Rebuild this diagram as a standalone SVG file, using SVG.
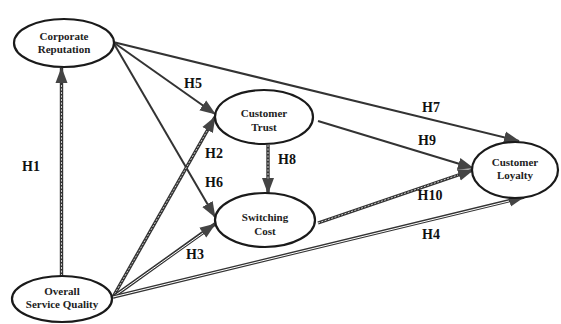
<svg xmlns="http://www.w3.org/2000/svg" width="561" height="324" viewBox="0 0 561 324">
<style>
.node ellipse{fill:#fff;stroke:#1a1a1a;stroke-width:2.2}
.node text{font-family:"Liberation Serif","Times New Roman",serif;font-weight:bold;font-size:11px;fill:#222;text-anchor:middle}
.lbl{font-family:"Liberation Serif","Times New Roman",serif;font-weight:bold;font-size:14px;fill:#111;text-anchor:middle}
.solid{stroke:#333;stroke-width:2;fill:none}
.hatch{stroke:#333;stroke-width:3.4;fill:none}
.hatch-in{stroke:#ccc;stroke-width:1;stroke-dasharray:2 1.5;fill:none}
.dbl-in{stroke:#fff;stroke-width:1;fill:none}
</style>
<defs>
<marker id="ah" markerUnits="userSpaceOnUse" markerWidth="16" markerHeight="14" refX="15" refY="6" orient="auto" viewBox="0 0 16 12">
<path d="M0,0 L16,6 L0,12 z" fill="#444"/>
</marker>
</defs>
<rect width="561" height="324" fill="#fff"/>
<g id="connectors">
<line class="hatch" x1="61.5" y1="276" x2="61.5" y2="68" marker-end="url(#ah)"/>
<line class="hatch-in" x1="61.5" y1="276" x2="61.5" y2="84"/>
<line class="solid" x1="113" y1="42" x2="215" y2="114" marker-end="url(#ah)"/>
<line class="solid" x1="113" y1="42" x2="215" y2="217" marker-end="url(#ah)"/>
<line class="solid" x1="113" y1="42" x2="519" y2="141" marker-end="url(#ah)"/>
<line class="solid" x1="318" y1="121" x2="473" y2="168" marker-end="url(#ah)"/>
<line class="hatch" x1="318" y1="223" x2="473" y2="170" marker-end="url(#ah)"/>
<line class="hatch-in" x1="318" y1="223" x2="458" y2="175"/>
<line class="hatch" x1="113" y1="297" x2="215" y2="117" marker-end="url(#ah)"/>
<line class="hatch-in" x1="113" y1="297" x2="207" y2="131"/>
<line class="hatch" x1="113" y1="297" x2="215" y2="224" marker-end="url(#ah)"/>
<line class="dbl-in" x1="113" y1="297" x2="203" y2="233"/>
<line class="hatch" x1="113" y1="297" x2="524" y2="197" marker-end="url(#ah)"/>
<line class="dbl-in" x1="113" y1="297" x2="509" y2="201"/>
<line class="hatch" x1="268" y1="145" x2="268" y2="193" marker-end="url(#ah)"/>
<line class="hatch-in" x1="268" y1="145" x2="268" y2="180"/>
</g>
<g id="corporate-reputation" class="node">
<ellipse cx="64" cy="43" rx="50" ry="24"/>
<text x="64" y="40">Corporate</text>
<text x="64" y="53">Reputation</text>
</g>
<g id="overall-service-quality" class="node">
<ellipse cx="62" cy="299" rx="50" ry="23"/>
<text x="62" y="295">Overall</text>
<text x="62" y="308">Service Quality</text>
</g>
<g id="customer-trust" class="node">
<ellipse cx="264" cy="117" rx="49" ry="27"/>
<text x="264" y="117">Customer</text>
<text x="264" y="131">Trust</text>
</g>
<g id="switching-cost" class="node">
<ellipse cx="265" cy="220" rx="50" ry="27"/>
<text x="265" y="221">Switching</text>
<text x="265" y="235">Cost</text>
</g>
<g id="customer-loyalty" class="node">
<ellipse cx="515" cy="170" rx="43" ry="28"/>
<text x="515" y="166">Customer</text>
<text x="515" y="179">Loyalty</text>
</g>
<g id="labels">
<text class="lbl" x="31" y="171">H1</text>
<text class="lbl" x="193" y="88">H5</text>
<text class="lbl" x="214" y="158">H2</text>
<text class="lbl" x="214" y="187">H6</text>
<text class="lbl" x="287" y="164">H8</text>
<text class="lbl" x="431" y="112">H7</text>
<text class="lbl" x="427" y="145">H9</text>
<text class="lbl" x="430" y="200">H10</text>
<text class="lbl" x="431" y="239">H4</text>
<text class="lbl" x="195" y="259">H3</text>
</g>
</svg>
